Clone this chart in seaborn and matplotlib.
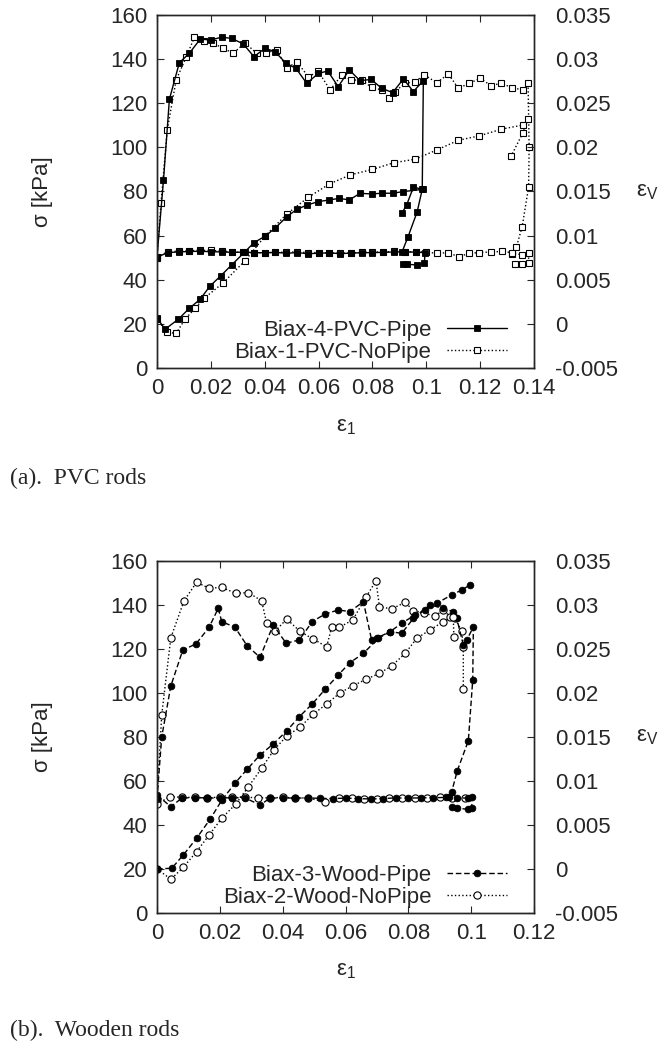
import numpy as np
import matplotlib
matplotlib.use('Agg')
import matplotlib.pyplot as plt
import seaborn as sns
from matplotlib.lines import Line2D
from matplotlib.ticker import FuncFormatter

# ---------------------------------------------
# Data (eps1, value)
# ---------------------------------------------
# (a) PVC rods, Biax-4-PVC-Pipe
pvc_pipe_s1_x = [0, 0.0024, 0.0046, 0.0083, 0.012, 0.016, 0.020, 0.024, 0.0277, 0.032, 0.036, 0.0401,
                 0.0438, 0.0479, 0.0516, 0.0556, 0.0599, 0.0634, 0.0673, 0.0714, 0.0754, 0.0795, 0.0834,
                 0.0875, 0.0915, 0.0952, 0.0989, 0.0985, 0.0966, 0.0932, 0.0910]
pvc_pipe_s1_y = [50.5, 85, 121.8, 138.4, 142.6, 149.0, 148.7, 149.9, 149.4, 146.9, 141.1, 144.9,
                 143.4, 138.1, 135.8, 129.0, 133.5, 134.6, 127.5, 135.1, 130.2, 130.8, 126.8,
                 124.8, 131.0, 125.3, 130.2, 81.0, 70.7, 59.4, 52.6]
pvc_pipe_s3_x = [0, 0.004, 0.008, 0.012, 0.016, 0.020, 0.024, 0.028, 0.032, 0.036, 0.040, 0.044, 0.048,
                 0.052, 0.056, 0.060, 0.064, 0.068, 0.072, 0.076, 0.080, 0.084, 0.088, 0.092, 0.096,
                 0.0995, 0.0993, 0.0965, 0.0927, 0.0912]
pvc_pipe_s3_y = [50.2, 52.3, 52.6, 52.8, 52.9, 52.7, 52.6, 52.4, 52.5, 52.3, 52.2, 52.4, 52.0,
                 52.3, 51.8, 52.0, 52.2, 51.8, 52.1, 52.2, 52.3, 52.4, 52.6, 52.6, 52.5,
                 52.3, 47.4, 46.7, 47.0, 47.3]
pvc_pipe_ev_x = [0, 0.003, 0.0079, 0.012, 0.016, 0.0197, 0.0236, 0.0277, 0.0327, 0.036, 0.0401, 0.0438,
                 0.0482, 0.0519, 0.0558, 0.0599, 0.064, 0.0677, 0.0714, 0.0754, 0.0797, 0.0834, 0.0875,
                 0.0913, 0.0989, 0.0952, 0.0927, 0.0909]
pvc_pipe_ev_y = [0.00067, -0.00061, 0.00052, 0.00176, 0.00278, 0.00429, 0.00542, 0.00667, 0.00818,
                 0.0092, 0.00992, 0.01083, 0.01214, 0.01297, 0.01347, 0.01385, 0.01404, 0.01422,
                 0.01404, 0.01479, 0.01472, 0.0148, 0.0148, 0.01498, 0.01525, 0.01547, 0.01347, 0.01253]

# (a) PVC rods, Biax-1-PVC-NoPipe
pvc_nopipe_s1_x = [0, 0.0015, 0.0038, 0.0071, 0.0108, 0.0139, 0.0176, 0.0209, 0.0245, 0.0283, 0.0327,
                   0.037, 0.0405, 0.0445, 0.0482, 0.0519, 0.0562, 0.0599, 0.0643, 0.0686, 0.072, 0.076,
                   0.0797, 0.0834, 0.0863, 0.0884, 0.0921, 0.0958, 0.0993, 0.1039, 0.1082, 0.1119,
                   0.116, 0.120, 0.124, 0.1278, 0.132, 0.1358, 0.1378, 0.1382, 0.1380, 0.1356, 0.1335,
                   0.1318]
pvc_nopipe_s1_y = [50, 75, 107.9, 130.5, 140.8, 149.9, 148.0, 147.1, 145.0, 142.6, 147.4,
                   142.6, 142.9, 144.1, 135.8, 138.8, 132.0, 134.4, 126.0, 132.8, 130.5, 130.5,
                   127.2, 126.0, 122.2, 125.3, 129.0, 129.8, 132.8, 129.3, 133.2, 126.8,
                   129.0, 131.3, 128.0, 129.0, 127.0, 126.0, 129.0, 100.0, 82.0, 64.0, 55.0,
                   51.5]
pvc_nopipe_s3_x = [0, 0.004, 0.008, 0.012, 0.016, 0.020, 0.024, 0.028, 0.032, 0.036, 0.040, 0.044, 0.048,
                   0.052, 0.056, 0.060, 0.064, 0.068, 0.072, 0.076, 0.080, 0.084, 0.088, 0.092, 0.096,
                   0.100, 0.1039, 0.108, 0.1121, 0.116, 0.1197, 0.124, 0.128, 0.132, 0.1354, 0.138,
                   0.138, 0.1354, 0.1330]
pvc_nopipe_s3_y = [50.5, 52.6, 53.0, 53.2, 53.3, 53.3, 53.0, 52.6, 52.4, 52.3, 52.2, 52.4, 52.5,
                   52.6, 52.3, 52.3, 52.0, 52.1, 52.0, 52.4, 52.5, 52.6, 52.8, 52.7, 52.6,
                   52.6, 51.9, 52.3, 50.4, 52.0, 52.3, 52.6, 52.8, 52.3, 51.2, 52.0,
                   47.5, 47.0, 47.3]
pvc_nopipe_ev_x = [0, 0.0036, 0.0071, 0.0104, 0.0141, 0.0175, 0.0244, 0.0327, 0.040, 0.0482, 0.0562,
                   0.064, 0.0717, 0.080, 0.088, 0.0958, 0.1039, 0.1119, 0.1197, 0.1278, 0.1358,
                   0.1378, 0.1358, 0.1315]
pvc_nopipe_ev_y = [0.0006, -0.00096, -0.00107, 0.00052, 0.00176, 0.0029, 0.0046, 0.00716, 0.0099,
                   0.01245, 0.01434, 0.01585, 0.01687, 0.0175, 0.01826, 0.01865, 0.0197, 0.0208,
                   0.0213, 0.02205, 0.02253, 0.0232, 0.0216, 0.019]

# (b) Wooden rods, Biax-3-Wood-Pipe
wood_pipe_s1_x = [0, 0.0015, 0.0044, 0.0082, 0.0124, 0.0166, 0.0195, 0.0206, 0.0248, 0.0287, 0.0328,
                  0.037, 0.0411, 0.0453, 0.0494, 0.0535, 0.0577, 0.0614, 0.0657, 0.0683, 0.0699,
                  0.0742, 0.0779, 0.0816, 0.0869, 0.0911, 0.0943, 0.0954, 0.0975, 0.0986, 0.1007,
                  0.1005, 0.0991, 0.0956, 0.0938, 0.0930]
wood_pipe_s1_y = [52, 80, 103.2, 119.5, 122.3, 129.9, 138.5, 132.4, 129.9, 121.4, 116.2,
                  130.9, 122.6, 124.1, 132.4, 135.9, 137.7, 137.0, 141.5, 124.1, 124.9,
                  127.9, 127.1, 133.9, 140.0, 138.5, 137.0, 134.0, 121.8, 124.1, 130.0,
                  106.0, 78.3, 64.7, 55.1, 52.5]
wood_pipe_s3_x = [0, 0.0044, 0.008, 0.012, 0.016, 0.020, 0.024, 0.028, 0.0328, 0.036, 0.040, 0.044,
                  0.048, 0.052, 0.056, 0.060, 0.064, 0.068, 0.072, 0.076, 0.080, 0.084, 0.088, 0.092,
                  0.0956, 0.0991, 0.1002, 0.1002, 0.0991, 0.0956, 0.0938]
wood_pipe_s3_y = [53.6, 48.3, 52.3, 52.4, 52.3, 52.2, 52.4, 52.3, 49.1, 52.2, 52.3, 52.2,
                  52.3, 52.1, 52.0, 52.2, 52.0, 51.8, 52.0, 52.3, 52.2, 52.3, 52.4, 52.5,
                  52.3, 52.2, 52.8, 47.5, 47.1, 47.6, 48.0]
wood_pipe_ev_x = [0, 0.0047, 0.0084, 0.0126, 0.0169, 0.0206, 0.0248, 0.0287, 0.0328, 0.037, 0.0413,
                  0.0453, 0.0494, 0.0535, 0.0577, 0.0614, 0.0657, 0.0704, 0.0742, 0.0779, 0.0821,
                  0.0853, 0.089, 0.0938, 0.097, 0.0996]
wood_pipe_ev_y = [0.0, 0.00008, 0.0016, 0.00349, 0.00565, 0.0078, 0.00974, 0.01133, 0.01295, 0.0142,
                  0.0157, 0.0173, 0.01875, 0.0204, 0.02205, 0.02344, 0.0245, 0.0262, 0.02697,
                  0.02792, 0.02886, 0.02943, 0.03019, 0.03114, 0.0317, 0.03227]

# (b) Wooden rods, Biax-2-Wood-NoPipe
wood_nopipe_s1_x = [0, 0.0015, 0.0044, 0.0086, 0.0126, 0.0166, 0.0206, 0.0251, 0.0291, 0.0333, 0.0349,
                    0.0375, 0.0413, 0.0455, 0.0498, 0.054, 0.0556, 0.058, 0.0623, 0.0665, 0.0697,
                    0.0708, 0.0747, 0.079, 0.0816, 0.0851, 0.0885, 0.0911, 0.0933, 0.0949, 0.097,
                    0.0975, 0.0975]
wood_nopipe_s1_y = [52, 90, 125.1, 141.9, 150.3, 147.6, 148.0, 145.3, 145.6, 141.9, 131.7,
                    128.0, 133.6, 128.0, 124.4, 121.0, 130.0, 129.8, 133.2, 143.5, 151.0,
                    139.2, 138.2, 141.2, 137.4, 136.2, 135.0, 137.7, 134.7, 133.9, 128.0,
                    121.0, 102.0]
wood_nopipe_s3_x = [0, 0.004, 0.008, 0.012, 0.016, 0.020, 0.024, 0.028, 0.032, 0.036, 0.040, 0.044,
                    0.048, 0.0535, 0.058, 0.062, 0.066, 0.070, 0.074, 0.078, 0.082, 0.086, 0.090,
                    0.094, 0.098]
wood_nopipe_s3_y = [49.5, 52.8, 52.6, 52.5, 52.4, 52.6, 52.5, 52.6, 52.4, 52.3, 52.5, 52.4,
                    52.2, 50.6, 52.2, 52.1, 52.0, 51.6, 52.2, 52.3, 52.1, 52.3, 52.5,
                    52.4, 52.3]
wood_nopipe_ev_x = [0, 0.0044, 0.0084, 0.0126, 0.0166, 0.0206, 0.0251, 0.0291, 0.0333, 0.0372, 0.0413,
                    0.0455, 0.0498, 0.054, 0.0583, 0.0623, 0.0665, 0.0708, 0.0747, 0.079, 0.0827,
                    0.0869, 0.0911, 0.0943, 0.0945]
wood_nopipe_ev_y = [0.0, -0.00117, 0.00019, 0.00197, 0.00386, 0.00576, 0.00739, 0.00935, 0.01144,
                    0.01352, 0.01511, 0.0161, 0.01761, 0.01875, 0.02003, 0.0208, 0.02155, 0.02223,
                    0.02307, 0.0245, 0.02622, 0.02716, 0.0281, 0.02867, 0.0264]

labels_a = ['Biax-4-PVC-Pipe', 'Biax-1-PVC-NoPipe']
labels_b = ['Biax-3-Wood-Pipe', 'Biax-2-Wood-NoPipe']

# ---------------------------------------------
# Styles
# ---------------------------------------------
sns.set_style('ticks')
plt.rcParams['font.family'] = ['Liberation Sans', 'DejaVu Sans']
plt.rcParams['mathtext.fontset'] = 'custom'
plt.rcParams['mathtext.rm'] = 'Liberation Sans'
plt.rcParams['mathtext.it'] = 'Liberation Sans:italic'
plt.rcParams['axes.linewidth'] = 1.0

FS = 16
sq_fill = dict(color='k', linestyle='-', lw=1.0, marker='s', markersize=4.8,
               markerfacecolor='k', markeredgecolor='k', markeredgewidth=0.6)
sq_open = dict(color='k', linestyle=':', lw=1.0, marker='s', markersize=4.8,
               markerfacecolor='white', markeredgecolor='k', markeredgewidth=0.8)
ci_fill = dict(color='k', linestyle=(0, (4, 2)), lw=1.0, marker='o', markersize=4.8,
               markerfacecolor='k', markeredgecolor='k', markeredgewidth=0.6)
ci_open = dict(color='k', linestyle=':', lw=1.0, marker='o', markersize=5.2,
               markerfacecolor='white', markeredgecolor='k', markeredgewidth=0.8)


def curve(ax, x, y, style):
    sns.lineplot(x=x, y=y, ax=ax, estimator=None, sort=False, **style)


def fmt(v, p):
    return f'{round(v, 4) + 0.0:g}'


def setup(ax, ax2, xmax):
    ax.set_xlim(0, xmax)
    ax.set_ylim(0, 160)
    ax2.set_ylim(-0.005, 0.035)
    ax.set_xticks(np.arange(0, xmax + 1e-9, 0.02))
    ax.set_yticks(np.arange(0, 161, 20))
    ax2.set_yticks(np.arange(-0.005, 0.0351, 0.005))
    ax.xaxis.set_major_formatter(FuncFormatter(fmt))
    ax2.yaxis.set_major_formatter(FuncFormatter(fmt))
    ax.tick_params(axis='x', direction='in', length=5, top=True, labelsize=FS, pad=7)
    ax.tick_params(axis='y', direction='in', length=5, right=False, labelsize=FS, pad=7)
    ax2.tick_params(axis='y', direction='in', length=5, labelsize=FS, pad=15)
    ax.set_xlabel(r'$\mathregular{ε_1}$', fontsize=FS)
    ax.xaxis.set_label_coords(0.5, -0.135)
    ax.set_ylabel('σ [kPa]', fontsize=FS)
    ax.yaxis.set_label_coords(-0.275, 0.5)
    ax2.set_ylabel(r'$\mathregular{ε_V}$', fontsize=FS, rotation=0, ha='center', va='center')
    ax2.yaxis.set_label_coords(1.30, 0.5)
    for a in (ax, ax2):
        for s in a.spines.values():
            s.set_visible(True)
            s.set_linewidth(1.0)


def legend(ax2, labels, styles):
    handles = [Line2D([], [], **st) for st in styles]
    leg = ax2.legend(handles, labels, loc='lower right', bbox_to_anchor=(0.928, 0.015),
                     frameon=False, markerfirst=False, handlelength=2.7, handletextpad=0.7,
                     labelspacing=0.05, borderpad=0, borderaxespad=0, fontsize=FS)
    for col in leg._legend_handle_box.get_children():
        col.align = 'right'


fig = plt.figure(figsize=(6.67, 10.46), dpi=100)

# ---------------------------------------------
# (a) PVC rods
# ---------------------------------------------
ax = fig.add_axes([0.2354, 0.6482, 0.5652, 0.3375])
ax2 = ax.twinx()
curve(ax, pvc_nopipe_s1_x, pvc_nopipe_s1_y, sq_open)
curve(ax, pvc_nopipe_s3_x, pvc_nopipe_s3_y, sq_open)
curve(ax2, pvc_nopipe_ev_x, pvc_nopipe_ev_y, sq_open)
curve(ax, pvc_pipe_s1_x, pvc_pipe_s1_y, sq_fill)
curve(ax, pvc_pipe_s3_x, pvc_pipe_s3_y, sq_fill)
curve(ax2, pvc_pipe_ev_x, pvc_pipe_ev_y, sq_fill)
setup(ax, ax2, 0.14)
legend(ax2, labels_a, [sq_fill, sq_open])

# ---------------------------------------------
# (b) Wooden rods
# ---------------------------------------------
bx = fig.add_axes([0.2354, 0.1272, 0.5652, 0.3365])
bx2 = bx.twinx()
curve(bx, wood_nopipe_s1_x, wood_nopipe_s1_y, ci_open)
curve(bx, wood_nopipe_s3_x, wood_nopipe_s3_y, ci_open)
curve(bx2, wood_nopipe_ev_x, wood_nopipe_ev_y, ci_open)
curve(bx, wood_pipe_s1_x, wood_pipe_s1_y, ci_fill)
curve(bx, wood_pipe_s3_x, wood_pipe_s3_y, ci_fill)
curve(bx2, wood_pipe_ev_x, wood_pipe_ev_y, ci_fill)
setup(bx, bx2, 0.12)
legend(bx2, labels_b, [ci_fill, ci_open])

# captions
fig.text(0.015, 1 - 478 / 1046, '(a).  PVC rods', family='Liberation Serif', fontsize=17, va='center')
fig.text(0.015, 1 - 1030 / 1046, '(b).  Wooden rods', family='Liberation Serif', fontsize=17, va='center')

fig.savefig('out.png', dpi=100)
